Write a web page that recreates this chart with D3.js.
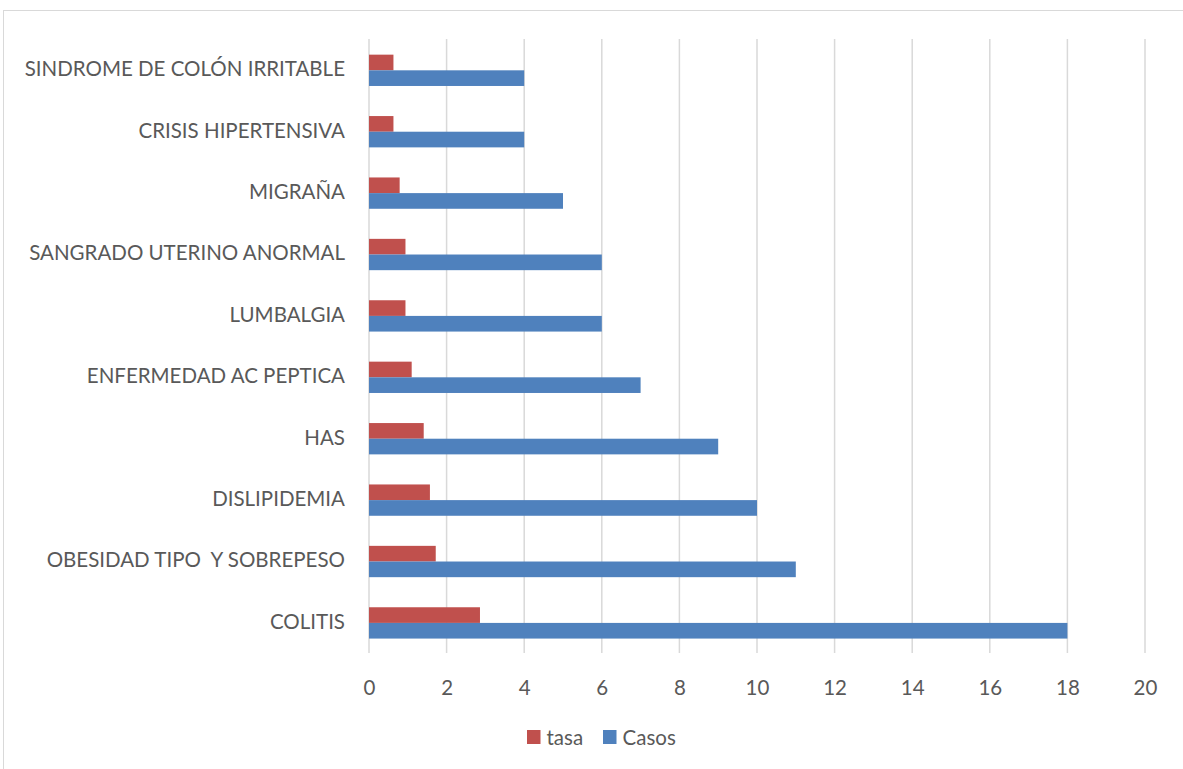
<!DOCTYPE html>
<html>
<head>
<meta charset="utf-8">
<script src="https://cdn.jsdelivr.net/npm/d3@7"></script>
<style>
  body { margin: 0; background: #fff; }
  text { font-family: Lato, "Open Sans", sans-serif; fill: #595959; white-space: pre; }
</style>
</head>
<body>
<script>
// chart values, top to bottom as drawn
var categories = ["SINDROME DE COLÓN IRRITABLE", "CRISIS HIPERTENSIVA", "MIGRAÑA",
  "SANGRADO UTERINO ANORMAL", "LUMBALGIA", "ENFERMEDAD AC PEPTICA", "HAS",
  "DISLIPIDEMIA", "OBESIDAD TIPO  Y SOBREPESO", "COLITIS"];
var casos = [4, 4, 5, 6, 6, 7, 9, 10, 11, 18];
var tasa = [0.63, 0.63, 0.79, 0.94, 0.94, 1.1, 1.41, 1.57, 1.72, 2.86];
var xTicks = [0, 2, 4, 6, 8, 10, 12, 14, 16, 18, 20];
var seriesNames = ["tasa", "Casos"];
var seriesColors = ["#C0504D", "#4F81BD"];

var W = 1183, H = 769;
var plot = {left: 369, right: 1145, top: 39, bottom: 653};
var fontSize = "20.5px";

var svg = d3.select("body").append("svg")
    .attr("width", W)
    .attr("height", H);

// chart frame
svg.append("rect")
    .attr("x", 3.5).attr("y", 10.5)
    .attr("width", W + 10).attr("height", H + 10)
    .attr("fill", "none")
    .attr("stroke", "#D9D9D9");

var x = d3.scaleLinear().domain([0, 20]).range([plot.left, plot.right]);
var y = d3.scaleBand().domain(categories).range([plot.top, plot.bottom]);
var ySub = d3.scaleBand().domain(seriesNames)
    .range([y.bandwidth() * 0.255, y.bandwidth() * 0.765]);

// gridlines
svg.append("g").selectAll("line")
  .data(xTicks)
  .enter().append("line")
    .attr("x1", d => x(d)).attr("x2", d => x(d))
    .attr("y1", plot.top).attr("y2", plot.bottom)
    .attr("stroke", "#D9D9D9")
    .attr("stroke-width", 1.5);

// x tick labels
var xAxis = d3.axisBottom(x).tickValues(xTicks).tickSize(0).tickPadding(0);
var gx = svg.append("g")
    .attr("transform", "translate(0,687.5)")
    .call(xAxis);
gx.select(".domain").remove();
gx.selectAll("text").style("font-size", fontSize).attr("y", 0).attr("dy", "0.35em");

// category labels
var yAxis = d3.axisLeft(y).tickSize(0).tickPadding(24);
var gy = svg.append("g")
    .attr("transform", "translate(" + plot.left + ",0)")
    .call(yAxis);
gy.select(".domain").remove();
gy.selectAll("text").style("font-size", fontSize);

// bars
var rows = categories.map(function(c, i) {
  return {cat: c, values: [{key: "tasa", v: tasa[i]}, {key: "Casos", v: casos[i]}]};
});

var groups = svg.append("g").selectAll("g")
  .data(rows)
  .enter().append("g")
    .attr("transform", d => "translate(0," + y(d.cat) + ")");

groups.selectAll("rect")
  .data(d => d.values)
  .enter().append("rect")
    .attr("x", x(0))
    .attr("y", d => ySub(d.key))
    .attr("width", d => x(d.v) - x(0))
    .attr("height", ySub.bandwidth())
    .attr("fill", (d, i) => seriesColors[i]);

// legend
var legend = svg.append("g");
var legendX = [527, 603];
seriesNames.forEach(function(s, i) {
  legend.append("rect")
    .attr("x", legendX[i]).attr("y", 730)
    .attr("width", 13.5).attr("height", 14)
    .attr("fill", seriesColors[i]);
  legend.append("text")
    .attr("x", legendX[i] + 19.5).attr("y", 738)
    .attr("dy", "0.35em")
    .style("font-size", fontSize)
    .text(s);
});
</script>
</body>
</html>
